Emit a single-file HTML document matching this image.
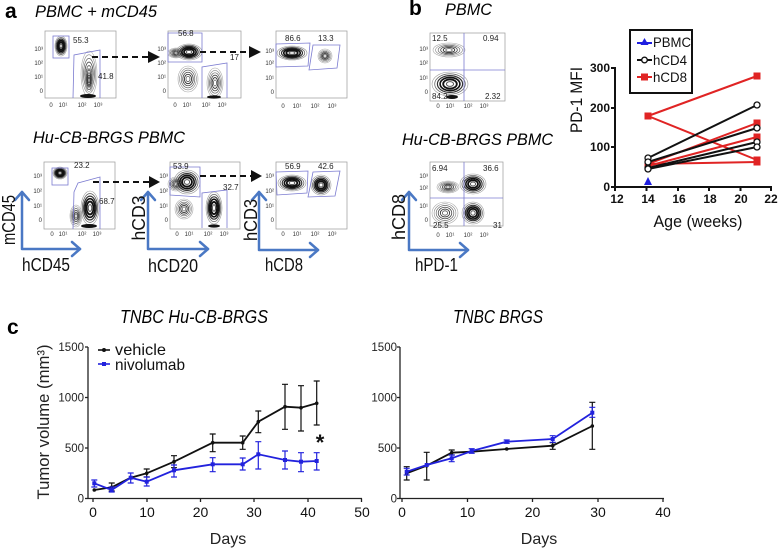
<!DOCTYPE html>
<html><head><meta charset="utf-8"><style>
html,body{margin:0;padding:0;background:#fff;}
svg{display:block;}
text{font-family:"Liberation Sans",sans-serif;}
</style></head><body>
<svg width="778" height="548" viewBox="0 0 778 548" xmlns="http://www.w3.org/2000/svg">
<defs>
<g id="bl" fill="none">
<ellipse rx="1" ry="1" stroke="#aaa" stroke-width="0.6" vector-effect="non-scaling-stroke"/>
<ellipse rx="0.84" ry="0.84" stroke="#888" stroke-width="0.6" vector-effect="non-scaling-stroke"/>
<ellipse rx="0.68" ry="0.68" stroke="#666" stroke-width="0.7" vector-effect="non-scaling-stroke"/>
<ellipse rx="0.52" ry="0.52" stroke="#444" stroke-width="0.8" vector-effect="non-scaling-stroke"/>
<ellipse rx="0.36" ry="0.36" stroke="#333" stroke-width="0.9" vector-effect="non-scaling-stroke"/>
<ellipse rx="0.2" ry="0.2" stroke="#555" stroke-width="0.8" vector-effect="non-scaling-stroke"/>
</g>
<g id="bd" fill="none">
<ellipse rx="1" ry="1" stroke="#999" stroke-width="0.6" vector-effect="non-scaling-stroke"/>
<ellipse rx="0.85" ry="0.85" stroke="#666" stroke-width="0.8" vector-effect="non-scaling-stroke"/>
<ellipse rx="0.7" ry="0.7" stroke="#333" stroke-width="1.2" vector-effect="non-scaling-stroke"/>
<ellipse rx="0.55" ry="0.55" stroke="#111" stroke-width="1.6" vector-effect="non-scaling-stroke"/>
<ellipse rx="0.38" ry="0.38" stroke="#111" stroke-width="1.8" vector-effect="non-scaling-stroke"/>
<ellipse rx="0.2" ry="0.2" stroke="#555" stroke-width="1" vector-effect="non-scaling-stroke"/>
</g>
</defs>
<rect width="778" height="548" fill="#fff"/>

<!-- ===== Panel a ===== -->
<text x="5" y="18" font-size="21" font-weight="bold">a</text>
<text x="35" y="17" font-size="17" font-style="italic" textLength="122" lengthAdjust="spacingAndGlyphs">PBMC + mCD45</text>
<text x="33" y="143" font-size="17" font-style="italic" textLength="152" lengthAdjust="spacingAndGlyphs">Hu-CB-BRGS PBMC</text>

<g font-size="6" fill="#333">
<!-- A1 -->
<rect x="45" y="31" width="71" height="67" fill="none" stroke="#999" stroke-width="0.7"/>
<text x="43" y="51" text-anchor="end">10³</text><text x="43" y="65" text-anchor="end">10²</text><text x="43" y="79" text-anchor="end">10¹</text><text x="43" y="93" text-anchor="end">0</text>
<text x="51" y="107" text-anchor="middle">0</text><text x="63" y="107" text-anchor="middle">10¹</text><text x="82" y="107" text-anchor="middle">10²</text><text x="98" y="107" text-anchor="middle">10³</text>
<!-- A2 -->
<rect x="168" y="31" width="73" height="67" fill="none" stroke="#999" stroke-width="0.7"/>
<text x="166" y="51" text-anchor="end">10³</text><text x="166" y="65" text-anchor="end">10²</text><text x="166" y="79" text-anchor="end">10¹</text><text x="166" y="93" text-anchor="end">0</text>
<text x="175" y="107" text-anchor="middle">0</text><text x="187" y="107" text-anchor="middle">10¹</text><text x="206" y="107" text-anchor="middle">10²</text><text x="222" y="107" text-anchor="middle">10³</text>
<!-- A3 -->
<rect x="276" y="31" width="71" height="67" fill="none" stroke="#999" stroke-width="0.7"/>
<text x="274" y="53" text-anchor="end">10³</text><text x="274" y="65" text-anchor="end">10²</text><text x="274" y="80" text-anchor="end">10¹</text><text x="274" y="94" text-anchor="end">0</text>
<text x="283" y="108" text-anchor="middle">0</text><text x="297" y="108" text-anchor="middle">10¹</text><text x="315" y="108" text-anchor="middle">10²</text><text x="332" y="108" text-anchor="middle">10³</text>
<!-- B1 -->
<rect x="44" y="162" width="71" height="67" fill="none" stroke="#999" stroke-width="0.7"/>
<text x="42" y="178" text-anchor="end">10³</text><text x="42" y="193" text-anchor="end">10²</text><text x="42" y="208" text-anchor="end">10¹</text><text x="42" y="222" text-anchor="end">0</text>
<text x="52" y="236" text-anchor="middle">0</text><text x="63" y="236" text-anchor="middle">10¹</text><text x="82" y="236" text-anchor="middle">10²</text><text x="97" y="236" text-anchor="middle">10³</text>
<!-- B2 -->
<rect x="170" y="162" width="70" height="67" fill="none" stroke="#999" stroke-width="0.7"/>
<text x="168" y="178" text-anchor="end">10³</text><text x="168" y="193" text-anchor="end">10²</text><text x="168" y="208" text-anchor="end">10¹</text><text x="168" y="222" text-anchor="end">0</text>
<text x="177" y="236" text-anchor="middle">0</text><text x="189" y="236" text-anchor="middle">10¹</text><text x="208" y="236" text-anchor="middle">10²</text><text x="224" y="236" text-anchor="middle">10³</text>
<!-- B3 -->
<rect x="276" y="162" width="71" height="67" fill="none" stroke="#999" stroke-width="0.7"/>
<text x="274" y="178" text-anchor="end">10³</text><text x="274" y="193" text-anchor="end">10²</text><text x="274" y="208" text-anchor="end">10¹</text><text x="274" y="222" text-anchor="end">0</text>
<text x="283" y="236" text-anchor="middle">0</text><text x="297" y="236" text-anchor="middle">10¹</text><text x="315" y="236" text-anchor="middle">10²</text><text x="332" y="236" text-anchor="middle">10³</text>
<!-- P1 -->
<rect x="430" y="33" width="75" height="68" fill="none" stroke="#999" stroke-width="0.7"/>
<text x="428" y="51" text-anchor="end">10³</text><text x="428" y="65" text-anchor="end">10²</text><text x="428" y="80" text-anchor="end">10¹</text><text x="428" y="94" text-anchor="end">0</text>
<text x="438" y="108" text-anchor="middle">0</text><text x="450" y="108" text-anchor="middle">10¹</text><text x="468" y="108" text-anchor="middle">10²</text><text x="484" y="108" text-anchor="middle">10³</text>
<!-- P2 -->
<rect x="430" y="162" width="73" height="64" fill="none" stroke="#999" stroke-width="0.7"/>
<text x="428" y="178" text-anchor="end">10³</text><text x="428" y="190" text-anchor="end">10²</text><text x="428" y="208" text-anchor="end">10¹</text><text x="428" y="222" text-anchor="end">0</text>
<text x="438" y="237" text-anchor="middle">0</text><text x="450" y="237" text-anchor="middle">10¹</text><text x="468" y="237" text-anchor="middle">10²</text><text x="484" y="237" text-anchor="middle">10³</text>
</g>

<!-- blobs -->
<use href="#bd" transform="translate(61,46) scale(6,10)"/>
<use href="#bl" transform="translate(89,74) scale(8,23)"/>
<use href="#bl" transform="translate(89,80) scale(4,14)"/>
<ellipse cx="88" cy="96" rx="8" ry="2" fill="#111"/>

<use href="#bl" transform="translate(176,53) scale(8,5)"/>
<use href="#bd" transform="translate(189,52) scale(13,8)"/>
<use href="#bl" transform="translate(188,79) scale(10,13)"/>
<use href="#bl" transform="translate(215,83) scale(8,15)"/>
<ellipse cx="214" cy="97" rx="7" ry="1.6" fill="#111"/>

<use href="#bd" transform="translate(292,53) scale(15,7)"/>
<use href="#bl" transform="translate(325,56) scale(7,7)"/>

<use href="#bd" transform="translate(60,173) scale(7,6)"/>
<use href="#bl" transform="translate(76,216) scale(6,11)"/>
<use href="#bd" transform="translate(90,208) scale(9,17)"/>
<ellipse cx="89" cy="226" rx="8" ry="2" fill="#111"/>

<use href="#bl" transform="translate(176,184) scale(8,7)"/>
<use href="#bd" transform="translate(187,182) scale(13,12)"/>
<use href="#bl" transform="translate(184,209) scale(9,10)"/>
<use href="#bd" transform="translate(214,208) scale(8,16)"/>
<ellipse cx="214" cy="226" rx="6" ry="1.6" fill="#111"/>

<use href="#bd" transform="translate(292,183) scale(14,8)"/>
<use href="#bd" transform="translate(321,185) scale(10,10)"/>

<use href="#bl" transform="translate(449,50) scale(16,7)"/>
<use href="#bd" transform="translate(450,84) scale(18,12)"/>
<ellipse cx="452" cy="97" rx="6" ry="2" fill="#111"/>

<use href="#bl" transform="translate(448,187) scale(11,6)"/>
<use href="#bd" transform="translate(473,184) scale(13,10)"/>
<use href="#bl" transform="translate(445,213) scale(13,11)"/>
<use href="#bd" transform="translate(473,213) scale(11,11)"/>

<!-- gates -->
<g fill="none" stroke="#7b7bd0" stroke-width="0.8">
<rect x="53" y="36" width="16" height="22"/>
<polyline points="73,98 74,55 100,50 100,98"/>
<polygon points="168,33 202,33 202,62 168,62"/>
<polyline points="202,98 202,67 227,63 227,98"/>
<polygon points="276,44 310,43 308,66 276,67"/>
<polygon points="313,45 340,45 337,68 309,70"/>
<rect x="52" y="168" width="16" height="17"/>
<polyline points="73,229 74,192 78,183 100,177 100,229"/>
<polygon points="170,167 200,167 200,197 170,195"/>
<polyline points="202,228 202,193 227,190 227,228"/>
<polygon points="276,172 308,171 307,193 277,195"/>
<polygon points="313,172 340,171 335,196 308,197"/>
<line x1="464" y1="33" x2="464" y2="101"/><line x1="430" y1="70" x2="505" y2="70"/>
<line x1="464" y1="162" x2="464" y2="226"/><line x1="430" y1="198" x2="503" y2="198"/>
</g>

<!-- gate labels -->
<g font-size="8" fill="#222">
<text x="73" y="43">55.3</text>
<text x="98" y="79">41.8</text>
<text x="178" y="36">56.8</text>
<text x="230" y="60">17</text>
<text x="285" y="41">86.6</text>
<text x="318" y="41">13.3</text>
<text x="74" y="168">23.2</text>
<text x="99" y="204">68.7</text>
<text x="173" y="169">53.9</text>
<text x="223" y="190">32.7</text>
<text x="285" y="169">56.9</text>
<text x="318" y="169">42.6</text>
<text x="432" y="41">12.5</text>
<text x="483" y="41">0.94</text>
<text x="432" y="99">84.2</text>
<text x="485" y="99">2.32</text>
<text x="432" y="171">6.94</text>
<text x="483" y="171">36.6</text>
<text x="433" y="228">25.5</text>
<text x="493" y="228">31</text>
</g>

<!-- dashed arrows -->
<g stroke="#111" stroke-width="2" stroke-dasharray="6,4" fill="none">
<line x1="92" y1="57" x2="149" y2="57"/>
<line x1="200" y1="52" x2="250" y2="52"/>
<line x1="93" y1="182" x2="150" y2="182"/>
<line x1="200" y1="176" x2="252" y2="176"/>
</g>
<g fill="#111">
<polygon points="148,51 160,57 148,63"/>
<polygon points="249,46 261,52 249,58"/>
<polygon points="149,176 160,182 149,188"/>
<polygon points="251,170 262,176 251,182"/>
</g>

<!-- blue axis arrows -->
<g fill="none" stroke="#4a78c4" stroke-width="2.5" stroke-linecap="round" stroke-linejoin="round">
<polyline points="22,192 22,249 80,249"/>
<polyline points="15,200 22,192 29,200"/><polyline points="72,242 80,249 72,256"/>
<polyline points="148,192 148,249 208,249"/>
<polyline points="141,200 148,192 155,200"/><polyline points="200,242 208,249 200,256"/>
<polyline points="259,192 259,250 318,250"/>
<polyline points="252,200 259,192 266,200"/><polyline points="310,243 318,250 310,257"/>
<polyline points="409,192 409,250 468,250"/>
<polyline points="402,200 409,192 416,200"/><polyline points="460,243 468,250 460,257"/>
</g>
<g font-size="18" fill="#111">
<text transform="translate(15,220) rotate(-90)" text-anchor="middle" textLength="50" lengthAdjust="spacingAndGlyphs">mCD45</text>
<text x="22" y="271" textLength="48" lengthAdjust="spacingAndGlyphs">hCD45</text>
<text transform="translate(145,218) rotate(-90)" text-anchor="middle" textLength="45" lengthAdjust="spacingAndGlyphs">hCD3</text>
<text x="148" y="272" textLength="50" lengthAdjust="spacingAndGlyphs">hCD20</text>
<text transform="translate(257,220) rotate(-90)" text-anchor="middle" textLength="42" lengthAdjust="spacingAndGlyphs">hCD3</text>
<text x="265" y="271" textLength="38" lengthAdjust="spacingAndGlyphs">hCD8</text>
<text transform="translate(405,217) rotate(-90)" text-anchor="middle" textLength="46" lengthAdjust="spacingAndGlyphs">hCD8</text>
<text x="415" y="271" textLength="43" lengthAdjust="spacingAndGlyphs">hPD-1</text>
</g>

<!-- ===== Panel b ===== -->
<text x="409" y="15" font-size="21" font-weight="bold">b</text>
<text x="445" y="15" font-size="17" font-style="italic" textLength="47" lengthAdjust="spacingAndGlyphs">PBMC</text>
<text x="402" y="145" font-size="17" font-style="italic" textLength="151" lengthAdjust="spacingAndGlyphs">Hu-CB-BRGS PBMC</text>

<!-- b line chart -->
<g stroke="#111" stroke-width="2" fill="none">
<line x1="615" y1="67" x2="615" y2="188"/>
<line x1="614" y1="187" x2="772" y2="187"/>
<line x1="611" y1="68" x2="615" y2="68"/>
<line x1="611" y1="108" x2="615" y2="108"/>
<line x1="611" y1="147" x2="615" y2="147"/>
<line x1="611" y1="187" x2="615" y2="187"/>
<line x1="615" y1="187" x2="615" y2="191"/>
<line x1="646.5" y1="187" x2="646.5" y2="191"/>
<line x1="678" y1="187" x2="678" y2="191"/>
<line x1="709" y1="187" x2="709" y2="191"/>
<line x1="740.5" y1="187" x2="740.5" y2="191"/>
<line x1="771" y1="187" x2="771" y2="191"/>
</g>
<g font-size="12" font-weight="bold" fill="#111">
<text x="610" y="72" text-anchor="end">300</text>
<text x="610" y="112" text-anchor="end">200</text>
<text x="610" y="151" text-anchor="end">100</text>
<text x="610" y="191" text-anchor="end">0</text>
<text x="617" y="203" text-anchor="middle">12</text>
<text x="648" y="203" text-anchor="middle">14</text>
<text x="679" y="203" text-anchor="middle">16</text>
<text x="710" y="203" text-anchor="middle">18</text>
<text x="741" y="203" text-anchor="middle">20</text>
<text x="771" y="203" text-anchor="middle">22</text>
</g>
<text x="698" y="227" font-size="17" text-anchor="middle" fill="#111" textLength="89" lengthAdjust="spacingAndGlyphs">Age (weeks)</text>
<text transform="translate(582,100) rotate(-90)" font-size="17" text-anchor="middle" fill="#111" textLength="66" lengthAdjust="spacingAndGlyphs">PD-1 MFI</text>

<g stroke="#e02424" stroke-width="2" fill="none">
<line x1="648" y1="116" x2="757" y2="76"/>
<line x1="648" y1="116" x2="757" y2="160"/>
<line x1="648" y1="164" x2="757" y2="123"/>
<line x1="648" y1="166" x2="757" y2="137"/>
<line x1="648" y1="164" x2="757" y2="162"/>
</g>
<g stroke="#111" stroke-width="2" fill="none">
<line x1="648" y1="158" x2="757" y2="105"/>
<line x1="648" y1="162" x2="757" y2="128"/>
<line x1="648" y1="168" x2="757" y2="142"/>
<line x1="648" y1="169" x2="757" y2="147"/>
</g>
<g fill="#e02424">
<rect x="644.5" y="112.5" width="7" height="7"/>
<rect x="753.5" y="72.5" width="7" height="7"/>
<rect x="753.5" y="119.5" width="7" height="7"/>
<rect x="753.5" y="133.5" width="7" height="7"/>
<rect x="753.5" y="156.5" width="7" height="7"/>
<rect x="753.5" y="158.5" width="7" height="7"/>
<rect x="644.5" y="160.5" width="7" height="7"/>
</g>
<g fill="#fff" stroke="#111" stroke-width="1.3">
<circle cx="648" cy="158" r="3"/><circle cx="648" cy="162" r="3"/>
<circle cx="648" cy="168" r="3"/><circle cx="648" cy="169" r="3"/>
<circle cx="757" cy="105" r="3"/><circle cx="757" cy="128" r="3"/>
<circle cx="757" cy="142" r="3"/><circle cx="757" cy="147" r="3"/>
</g>
<polygon points="648,177 652,185 644,185" fill="#1f1fe0"/>

<!-- legend -->
<rect x="630" y="30" width="62" height="63" fill="#fff" stroke="#111" stroke-width="2"/>
<line x1="637" y1="43" x2="652" y2="43" stroke="#1f1fe0" stroke-width="2"/>
<polygon points="644.5,38 648.5,45 640.5,45" fill="#1f1fe0"/>
<line x1="637" y1="60" x2="652" y2="60" stroke="#111" stroke-width="2"/>
<circle cx="644.5" cy="60" r="2.8" fill="#fff" stroke="#111" stroke-width="1.3"/>
<line x1="637" y1="77" x2="652" y2="77" stroke="#e02424" stroke-width="2"/>
<rect x="641" y="73.5" width="7" height="7" fill="#e02424"/>
<g font-size="14" fill="#111">
<text x="653" y="47" textLength="38" lengthAdjust="spacingAndGlyphs">PBMC</text>
<text x="653" y="65" textLength="34" lengthAdjust="spacingAndGlyphs">hCD4</text>
<text x="653" y="82" textLength="34" lengthAdjust="spacingAndGlyphs">hCD8</text>
</g>

<!-- ===== Panel c ===== -->
<text x="7" y="334" font-size="21" font-weight="bold">c</text>
<text x="120" y="323" font-size="18" font-style="italic" textLength="148" lengthAdjust="spacingAndGlyphs">TNBC Hu-CB-BRGS</text>
<text x="453" y="323" font-size="18" font-style="italic" textLength="90" lengthAdjust="spacingAndGlyphs">TNBC BRGS</text>

<!-- left chart axes -->
<g stroke="#222" stroke-width="1.3" fill="none">
<line x1="88" y1="347" x2="88" y2="499"/>
<line x1="88" y1="498.5" x2="362" y2="498.5"/>
<line x1="85" y1="347" x2="88" y2="347"/>
<line x1="85" y1="397.5" x2="88" y2="397.5"/>
<line x1="85" y1="448" x2="88" y2="448"/>
<line x1="85" y1="498.5" x2="88" y2="498.5"/>
<line x1="93" y1="498.5" x2="93" y2="502"/>
<line x1="147" y1="498.5" x2="147" y2="502"/>
<line x1="200.5" y1="498.5" x2="200.5" y2="502"/>
<line x1="254" y1="498.5" x2="254" y2="502"/>
<line x1="308" y1="498.5" x2="308" y2="502"/>
<line x1="361.5" y1="498.5" x2="361.5" y2="502"/>
</g>
<g font-size="11.5" fill="#222">
<text x="84" y="351" text-anchor="end">1500</text>
<text x="84" y="401.5" text-anchor="end">1000</text>
<text x="84" y="452" text-anchor="end">500</text>
<text x="84" y="502.5" text-anchor="end">0</text>
</g>
<g font-size="14" fill="#111">
<text x="93" y="517" text-anchor="middle">0</text>
<text x="147" y="517" text-anchor="middle">10</text>
<text x="200.5" y="517" text-anchor="middle">20</text>
<text x="254" y="517" text-anchor="middle">30</text>
<text x="308" y="517" text-anchor="middle">40</text>
<text x="362" y="517" text-anchor="middle">50</text>
</g>
<text x="228" y="544" font-size="16" text-anchor="middle" fill="#222">Days</text>
<text transform="translate(49,422) rotate(-90)" font-size="17" text-anchor="middle" fill="#222" textLength="155" lengthAdjust="spacingAndGlyphs">Tumor volume (mm³)</text>

<!-- legend c -->
<line x1="98" y1="350" x2="110" y2="350" stroke="#111" stroke-width="1.6"/>
<circle cx="104" cy="350" r="2" fill="#111"/>
<line x1="98" y1="364" x2="110" y2="364" stroke="#2222dd" stroke-width="1.6"/>
<rect x="102" y="362" width="4" height="4" fill="#2222dd"/>
<text x="115" y="355" font-size="16" fill="#111" textLength="51" lengthAdjust="spacingAndGlyphs">vehicle</text>
<text x="115" y="370" font-size="16" fill="#111" textLength="70" lengthAdjust="spacingAndGlyphs">nivolumab</text>
<text x="320" y="450" font-size="22" font-weight="bold" text-anchor="middle" fill="#111">*</text>

<!-- vehicle series left -->
<g stroke="#111" stroke-width="1.2" fill="none">
<path d="M111.7,483V491M108.7,483H114.7M108.7,491H114.7"/>
<path d="M146.7,469V477M143.7,469H149.7M143.7,477H149.7"/>
<path d="M174,455.7V467.7M171,455.7H177M171,467.7H177"/>
<path d="M212.7,434V451.7M209.7,434H215.7M209.7,451.7H215.7"/>
<path d="M242.7,436V449.3M239.7,436H245.7M239.7,449.3H245.7"/>
<path d="M258.3,411V432.7M255.3,411H261.3M255.3,432.7H261.3"/>
<path d="M285,384.3V429.3M282,384.3H288M282,429.3H288"/>
<path d="M301,385.7V431M298,385.7H304M298,431H304"/>
<path d="M316.7,381V425M313.7,381H319.7M313.7,425H319.7"/>
</g>
<polyline points="94.3,490 111.7,487.3 130.7,477.7 146.7,473.3 174,461.7 212.7,442.7 242.7,442.7 258.3,421.7 285,406.7 301,407.7 316.7,403.3" fill="none" stroke="#111" stroke-width="1.8"/>
<g fill="#111">
<circle cx="94.3" cy="490" r="1.8"/><circle cx="111.7" cy="487.3" r="1.8"/><circle cx="130.7" cy="477.7" r="1.8"/><circle cx="146.7" cy="473.3" r="1.8"/><circle cx="174" cy="461.7" r="1.8"/><circle cx="212.7" cy="442.7" r="1.8"/><circle cx="242.7" cy="442.7" r="1.8"/><circle cx="258.3" cy="421.7" r="1.8"/><circle cx="285" cy="406.7" r="1.8"/><circle cx="301" cy="407.7" r="1.8"/><circle cx="316.7" cy="403.3" r="1.8"/>
</g>
<!-- nivolumab left -->
<g stroke="#2222dd" stroke-width="1.2" fill="none">
<path d="M94.3,480V487M91.3,480H97.3M91.3,487H97.3"/>
<path d="M111.7,487V492M108.7,487H114.7M108.7,492H114.7"/>
<path d="M130.7,473V483M127.7,473H133.7M127.7,483H133.7"/>
<path d="M146.7,477V486M143.7,477H149.7M143.7,486H149.7"/>
<path d="M174,465V477M171,465H177M171,477H177"/>
<path d="M212.7,457.7V471.7M209.7,457.7H215.7M209.7,471.7H215.7"/>
<path d="M242.7,458V470M239.7,458H245.7M239.7,470H245.7"/>
<path d="M258.3,441.7V469M255.3,441.7H261.3M255.3,469H261.3"/>
<path d="M285,451V469M282,451H288M282,469H288"/>
<path d="M301,452.7V471.7M298,452.7H304M298,471.7H304"/>
<path d="M316.7,452.7V470M313.7,452.7H319.7M313.7,470H319.7"/>
</g>
<polyline points="94.3,483.3 111.7,490 130.7,477.7 146.7,481.7 174,470.3 212.7,464.3 242.7,464.3 258.3,454.3 285,460 301,461.7 316.7,461" fill="none" stroke="#2222dd" stroke-width="1.8"/>
<g fill="#2222dd">
<rect x="92.3" y="481.3" width="4" height="4"/><rect x="109.7" y="488" width="4" height="4"/><rect x="128.7" y="475.7" width="4" height="4"/><rect x="144.7" y="479.7" width="4" height="4"/><rect x="172" y="468.3" width="4" height="4"/><rect x="210.7" y="462.3" width="4" height="4"/><rect x="240.7" y="462.3" width="4" height="4"/><rect x="256.3" y="452.3" width="4" height="4"/><rect x="283" y="458" width="4" height="4"/><rect x="299" y="459.7" width="4" height="4"/><rect x="314.7" y="459" width="4" height="4"/>
</g>

<!-- right chart axes -->
<g stroke="#222" stroke-width="1.3" fill="none">
<line x1="400" y1="347" x2="400" y2="499"/>
<line x1="400" y1="498.5" x2="664" y2="498.5"/>
<line x1="397" y1="347" x2="400" y2="347"/>
<line x1="397" y1="397.5" x2="400" y2="397.5"/>
<line x1="397" y1="448" x2="400" y2="448"/>
<line x1="397" y1="498.5" x2="400" y2="498.5"/>
<line x1="402" y1="498.5" x2="402" y2="502"/>
<line x1="467.5" y1="498.5" x2="467.5" y2="502"/>
<line x1="532.5" y1="498.5" x2="532.5" y2="502"/>
<line x1="598" y1="498.5" x2="598" y2="502"/>
<line x1="663" y1="498.5" x2="663" y2="502"/>
</g>
<g font-size="11.5" fill="#222">
<text x="397" y="351" text-anchor="end">1500</text>
<text x="397" y="401.5" text-anchor="end">1000</text>
<text x="397" y="452" text-anchor="end">500</text>
<text x="397" y="502.5" text-anchor="end">0</text>
</g>
<g font-size="14" fill="#111">
<text x="402" y="517" text-anchor="middle">0</text>
<text x="467.5" y="517" text-anchor="middle">10</text>
<text x="532.5" y="517" text-anchor="middle">20</text>
<text x="598" y="517" text-anchor="middle">30</text>
<text x="663" y="517" text-anchor="middle">40</text>
</g>
<text x="539" y="544" font-size="16" text-anchor="middle" fill="#222">Days</text>

<g stroke="#111" stroke-width="1.2" fill="none">
<path d="M406.7,466.7V480M403.7,466.7H409.7M403.7,480H409.7"/>
<path d="M426.7,452.3V480M423.7,452.3H429.7M423.7,480H429.7"/>
<path d="M451.7,450V455M448.7,450H454.7M448.7,455H454.7"/>
<path d="M552.7,442.7V449.3M549.7,442.7H555.7M549.7,449.3H555.7"/>
<path d="M592.3,402.3V449.3M589.3,402.3H595.3M589.3,449.3H595.3"/>
</g>
<polyline points="406.7,473.3 426.7,465.7 451.7,452.7 471.7,451.7 506.7,449 552.7,445.7 592.3,426" fill="none" stroke="#111" stroke-width="1.8"/>
<g fill="#111">
<circle cx="406.7" cy="473.3" r="1.8"/><circle cx="426.7" cy="465.7" r="1.8"/><circle cx="451.7" cy="452.7" r="1.8"/><circle cx="471.7" cy="451.7" r="1.8"/><circle cx="506.7" cy="449" r="1.8"/><circle cx="552.7" cy="445.7" r="1.8"/><circle cx="592.3" cy="426" r="1.8"/>
</g>
<g stroke="#2222dd" stroke-width="1.2" fill="none">
<path d="M406.7,468.3V475M403.7,468.3H409.7M403.7,475H409.7"/>
<path d="M451.7,455V461.7M448.7,455H454.7M448.7,461.7H454.7"/>
<path d="M471.7,448.7V453.3M468.7,448.7H474.7M468.7,453.3H474.7"/>
<path d="M506.7,440V443.3M503.7,440H509.7M503.7,443.3H509.7"/>
<path d="M552.7,435.7V442.3M549.7,435.7H555.7M549.7,442.3H555.7"/>
<path d="M592.3,407.3V417.3M589.3,407.3H595.3M589.3,417.3H595.3"/>
</g>
<polyline points="406.7,471.7 426.7,465 451.7,458.3 471.7,451 506.7,441.7 552.7,439 592.3,412.7" fill="none" stroke="#2222dd" stroke-width="1.8"/>
<g fill="#2222dd">
<rect x="404.7" y="469.7" width="4" height="4"/><rect x="424.7" y="463" width="4" height="4"/><rect x="449.7" y="456.3" width="4" height="4"/><rect x="469.7" y="449" width="4" height="4"/><rect x="504.7" y="439.7" width="4" height="4"/><rect x="550.7" y="437" width="4" height="4"/><rect x="590.3" y="410.7" width="4" height="4"/>
</g>
</svg>
</body></html>
